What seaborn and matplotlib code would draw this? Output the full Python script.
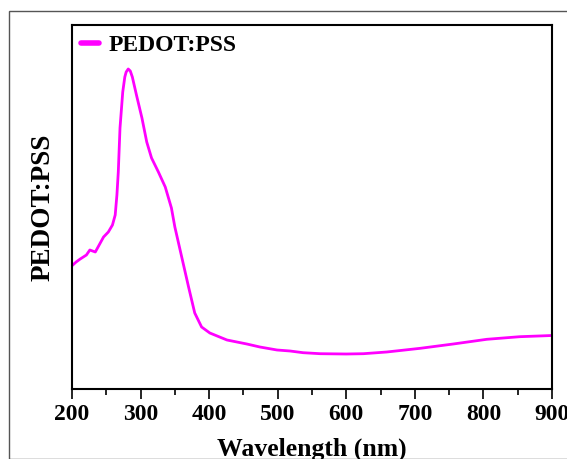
import matplotlib
matplotlib.use("Agg")
import matplotlib.pyplot as plt
import seaborn as sns
import pandas as pd
from matplotlib.patches import Rectangle
from matplotlib.ticker import MultipleLocator

wavelength = [200, 206, 212, 221, 226, 230, 234, 238, 246, 253, 259, 263, 265.5, 267.5,
              270, 274, 277, 279, 282, 285, 288, 294, 302, 309, 316, 326, 336, 345, 350, 355, 360,
              370, 379, 389, 401, 426, 455, 474, 499, 518, 537, 562, 600, 625, 659, 708,
              756, 805, 853, 900]
absorbance = [1.233, 1.27, 1.30, 1.34, 1.39, 1.38, 1.37, 1.42, 1.52, 1.57, 1.64, 1.74, 1.94, 2.17,
              2.61, 2.97, 3.12, 3.17, 3.20, 3.18, 3.12, 2.94, 2.71, 2.47, 2.31, 2.17, 2.02, 1.81, 1.62, 1.47, 1.32,
              1.02, 0.76, 0.62, 0.56, 0.49, 0.45, 0.42, 0.39, 0.38, 0.363, 0.353, 0.35, 0.353, 0.37, 0.407,
              0.45, 0.497, 0.523, 0.535]
series_name = "PEDOT:PSS"
xticks = [200, 300, 400, 500, 600, 700, 800, 900]

df = pd.DataFrame({"Wavelength": wavelength, "Absorbance": absorbance})

sns.set_theme(style="white")
plt.rcParams['font.family'] = ['Liberation Serif', 'DejaVu Serif']
plt.rcParams['font.weight'] = 'bold'
plt.rcParams['text.color'] = 'black'
plt.rcParams['axes.labelcolor'] = 'black'
plt.rcParams['xtick.color'] = 'black'
plt.rcParams['ytick.color'] = 'black'

fig = plt.figure(figsize=(5.67, 4.59), dpi=100)
ax = fig.add_axes([72/567, 1-389/459, 480/567, 364/459])

sns.lineplot(data=df, x="Wavelength", y="Absorbance", ax=ax, color="#FF00FF",
             linewidth=2.0, label=series_name, sort=False)

ax.set_xlim(200, 900)
ax.set_ylim(0, 3.64)
ax.set_xticks(xticks)
ax.set_xticklabels([str(t) for t in xticks], fontsize=17, fontweight='bold')
ax.xaxis.set_minor_locator(MultipleLocator(50))
ax.tick_params(axis='x', which='major', direction='out', length=7, width=1.2, bottom=True, pad=4)
ax.tick_params(axis='x', which='minor', direction='out', length=4, width=1.2, bottom=True)
ax.set_yticks([])
ax.set_xlabel("Wavelength (nm)", fontsize=18.5, fontweight='bold', labelpad=9)
ax.set_ylabel("PEDOT:PSS", fontsize=19.5, fontweight='bold', labelpad=12)
for s in ax.spines.values():
    s.set_linewidth(1.5)
    s.set_color("black")

leg = ax.legend(loc="upper left", frameon=False, fontsize=17, handlelength=0.75,
                handletextpad=0.4, borderaxespad=0.2, borderpad=0.2)
for line in leg.get_lines():
    line.set_linewidth(4)
for t in leg.get_texts():
    t.set_fontweight('bold')
    t.set_color('black')

fig.patches.append(Rectangle((9/567, 0), 1.0, 1-11/459, transform=fig.transFigure,
                             fill=False, edgecolor="#555555", linewidth=1.0, zorder=-1))

fig.savefig("out.png", dpi=100)
